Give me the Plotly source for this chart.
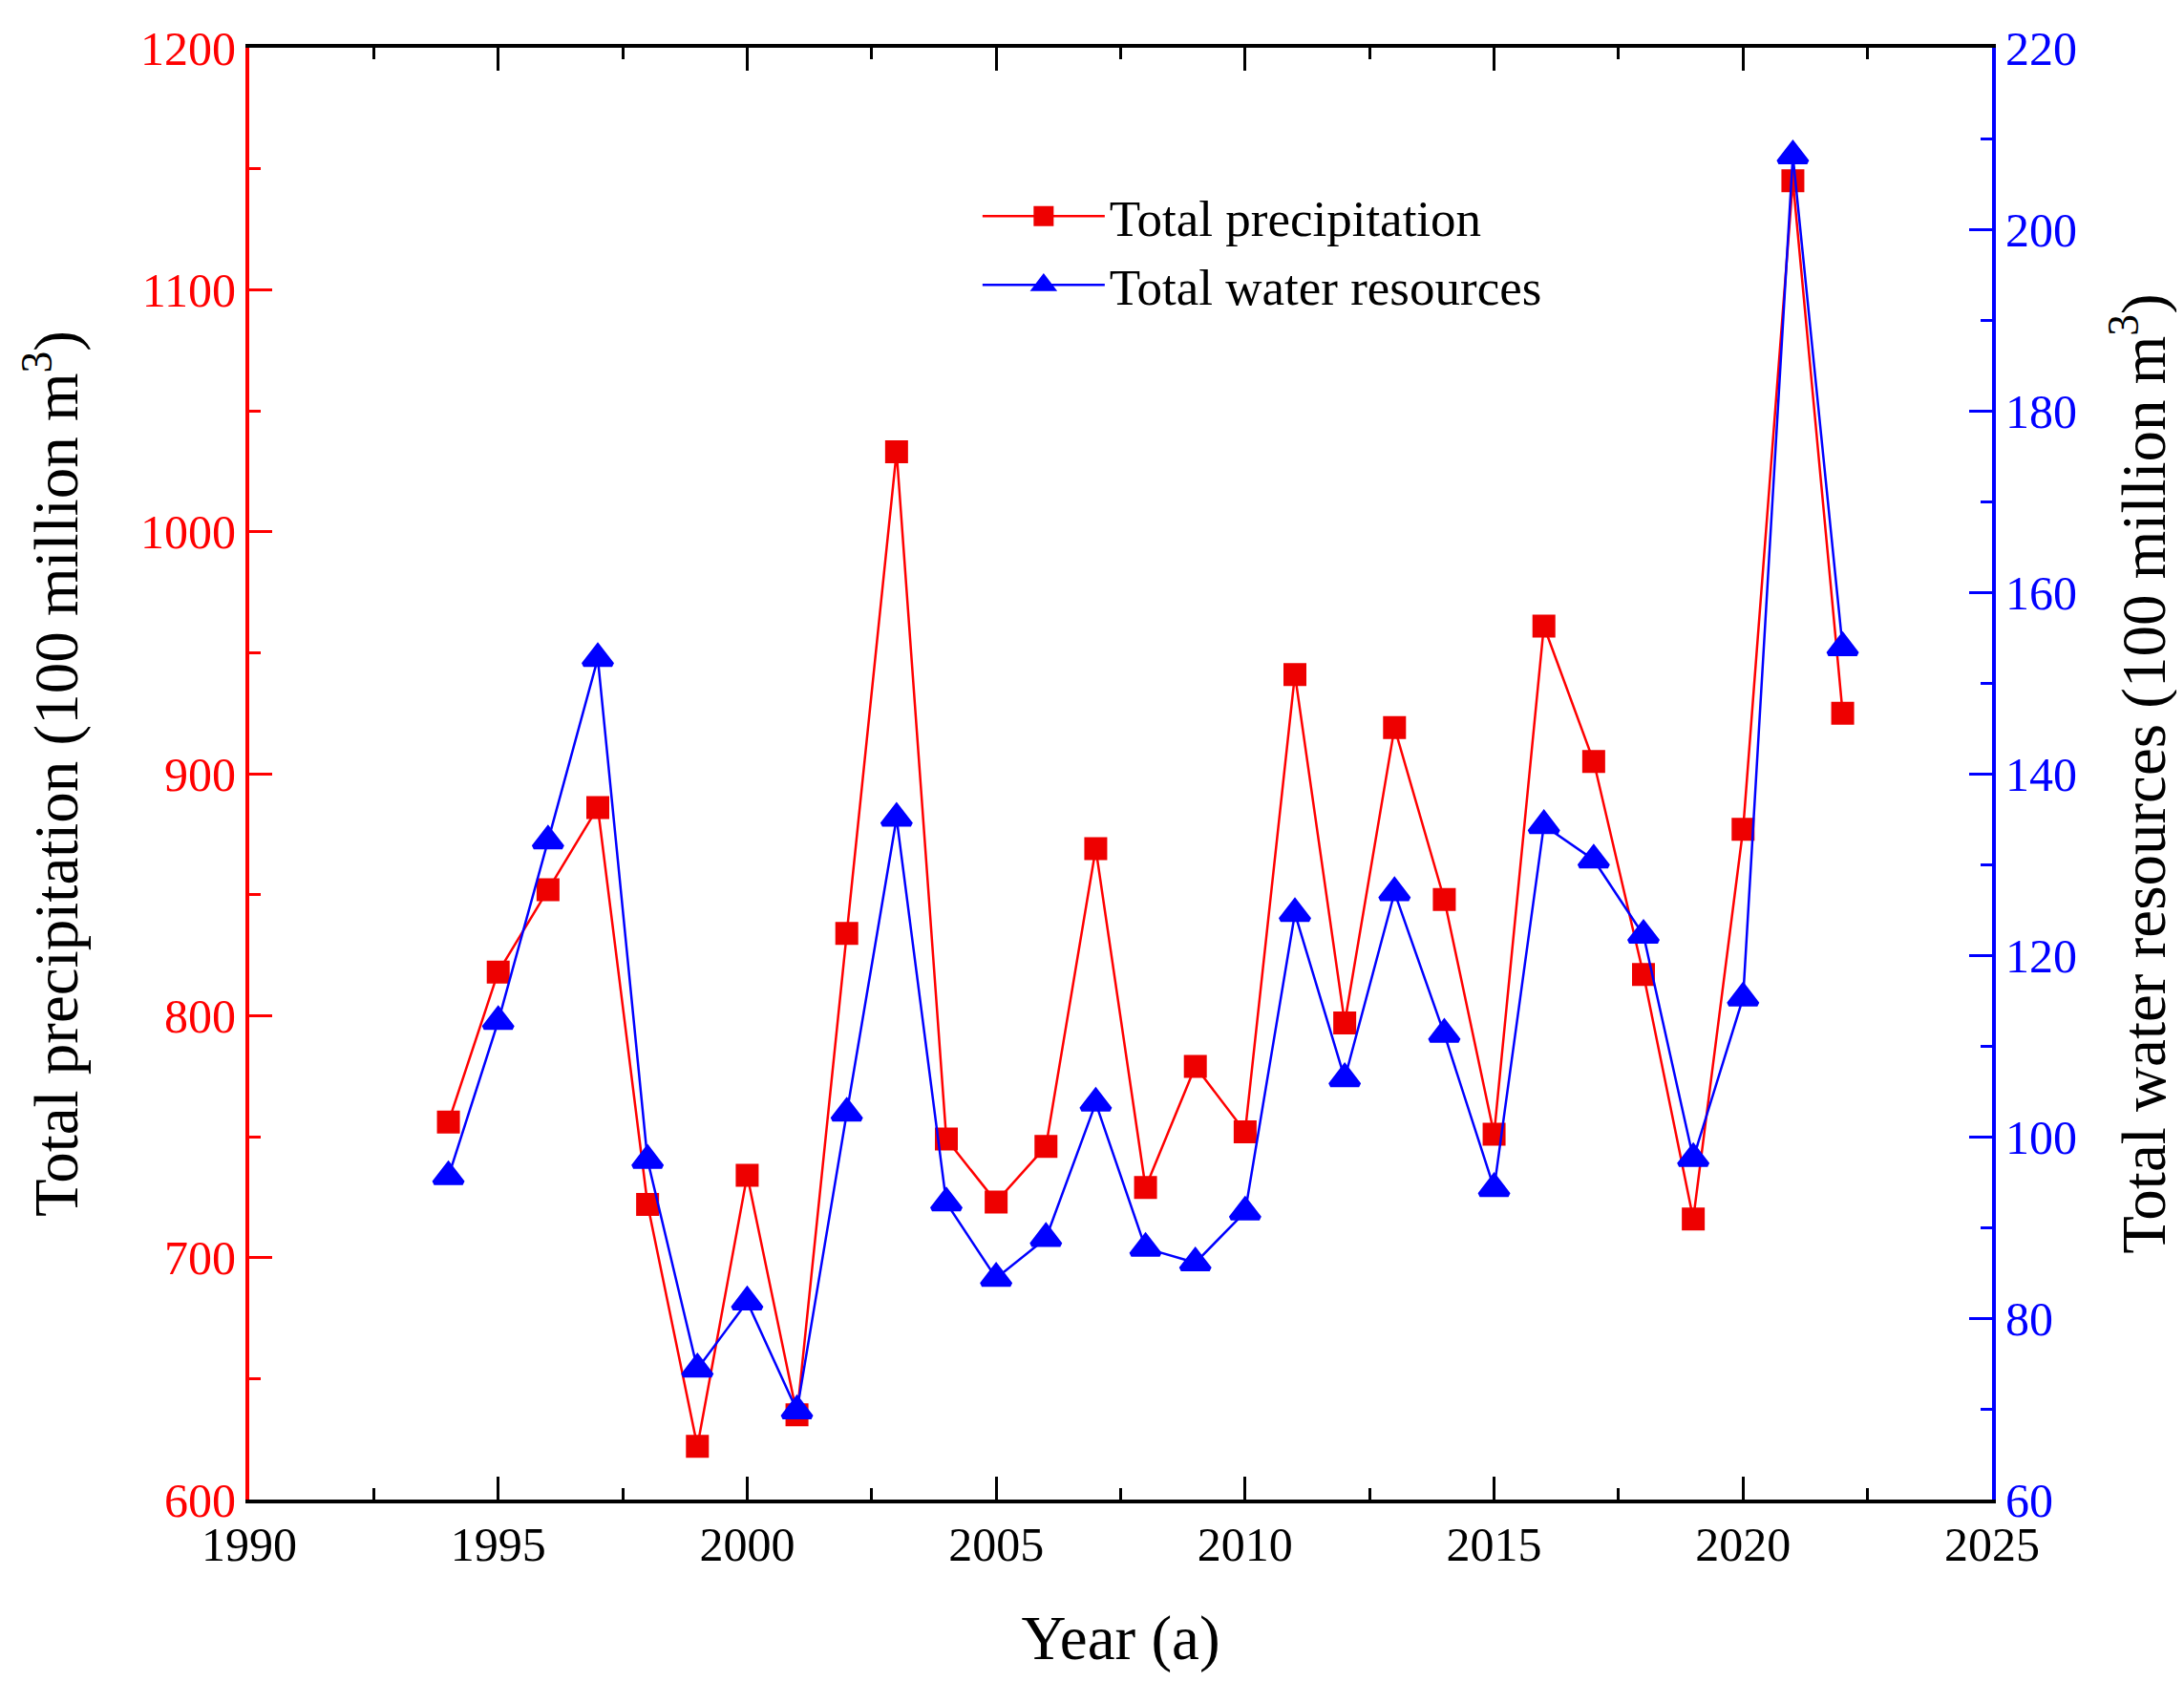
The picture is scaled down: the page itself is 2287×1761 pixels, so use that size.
import plotly.graph_objects as go

# data
years = list(range(1994, 2023))
precip = [756, 818, 852, 886, 722, 622, 734, 635, 834, 1033, 749, 723, 746, 869, 729,
          779, 752, 941, 797, 919, 848, 751, 961, 905, 817, 716, 877, 1145, 925]
water = [95.6, 112.7, 132.6, 152.7, 97.4, 74.4, 81.8, 69.8, 102.6, 135.1, 92.7, 84.4,
         88.8, 103.7, 87.7, 86.1, 91.7, 124.6, 106.4, 126.9, 111.3, 94.3, 134.3, 130.5,
         122.2, 97.6, 115.3, 208.1, 153.9]

FONT = "Liberation Serif, Times New Roman, serif"
RED = "#ff0000"
BLUE = "#0000ff"

# marker outline of the same colour: makes the (size-capped) legend symbols bigger too
fig = go.Figure()
fig.add_trace(go.Scatter(x=years, y=precip, name="Total precipitation", mode="lines+markers",
                         line=dict(color=RED, width=2.5),
                         marker=dict(symbol="square", size=19, color="#ee0000",
                                     line=dict(color="#ee0000", width=5))))
fig.add_trace(go.Scatter(x=years, y=water, name="Total water resources", mode="lines+markers",
                         yaxis="y2", line=dict(color=BLUE, width=2.5),
                         marker=dict(symbol="triangle-up", size=26, color=BLUE,
                                     line=dict(color=BLUE, width=5))))

fig.update_layout(
    width=2287, height=1761,
    margin=dict(l=253, r=209, t=42, b=199),
    paper_bgcolor="white", plot_bgcolor="white",
    font=dict(family=FONT, size=50, color="black"),
    showlegend=True,
    legend=dict(x=0.418, y=0.911, xanchor="left", yanchor="top",
                bgcolor="rgba(0,0,0,0)", font=dict(family=FONT, size=53),
                itemwidth=128, tracegroupgap=0),
    xaxis=dict(range=[1990, 2025], dtick=5, tick0=1990, showgrid=False, zeroline=False,
               showline=True, linecolor="black", linewidth=4, mirror="ticks",
               ticks="inside", ticklen=24, tickwidth=3, tickcolor="black",
               minor=dict(dtick=2.5, ticks="inside", ticklen=12, tickwidth=3, tickcolor="black"),
               tickfont=dict(family=FONT, size=50, color="black"),
               title=dict(text="Year (a)", font=dict(family=FONT, size=65), standoff=48)),
    yaxis=dict(range=[600, 1200], dtick=100, showgrid=False, zeroline=False,
               showline=True, linecolor=RED, linewidth=4,
               ticks="inside", ticklen=24, tickwidth=3, tickcolor=RED,
               minor=dict(dtick=50, ticks="inside", ticklen=12, tickwidth=3, tickcolor=RED),
               tickfont=dict(family=FONT, size=50, color=RED),
               title=dict(text="Total precipitation (100 million m<sup>3</sup>)",
                          font=dict(family=FONT, size=65, color="black"), standoff=45)),
    yaxis2=dict(range=[60, 220], dtick=20, overlaying="y", side="right",
                showgrid=False, zeroline=False,
                showline=True, linecolor=BLUE, linewidth=4,
                ticks="inside", ticklen=24, tickwidth=3, tickcolor=BLUE,
                minor=dict(dtick=10, ticks="inside", ticklen=12, tickwidth=3, tickcolor=BLUE),
                tickfont=dict(family=FONT, size=50, color=BLUE),
                title=dict(text="Total water resources (100 million m<sup>3</sup>)",
                           font=dict(family=FONT, size=65, color="black"), standoff=48)),
)

fig.write_html("out.html")
